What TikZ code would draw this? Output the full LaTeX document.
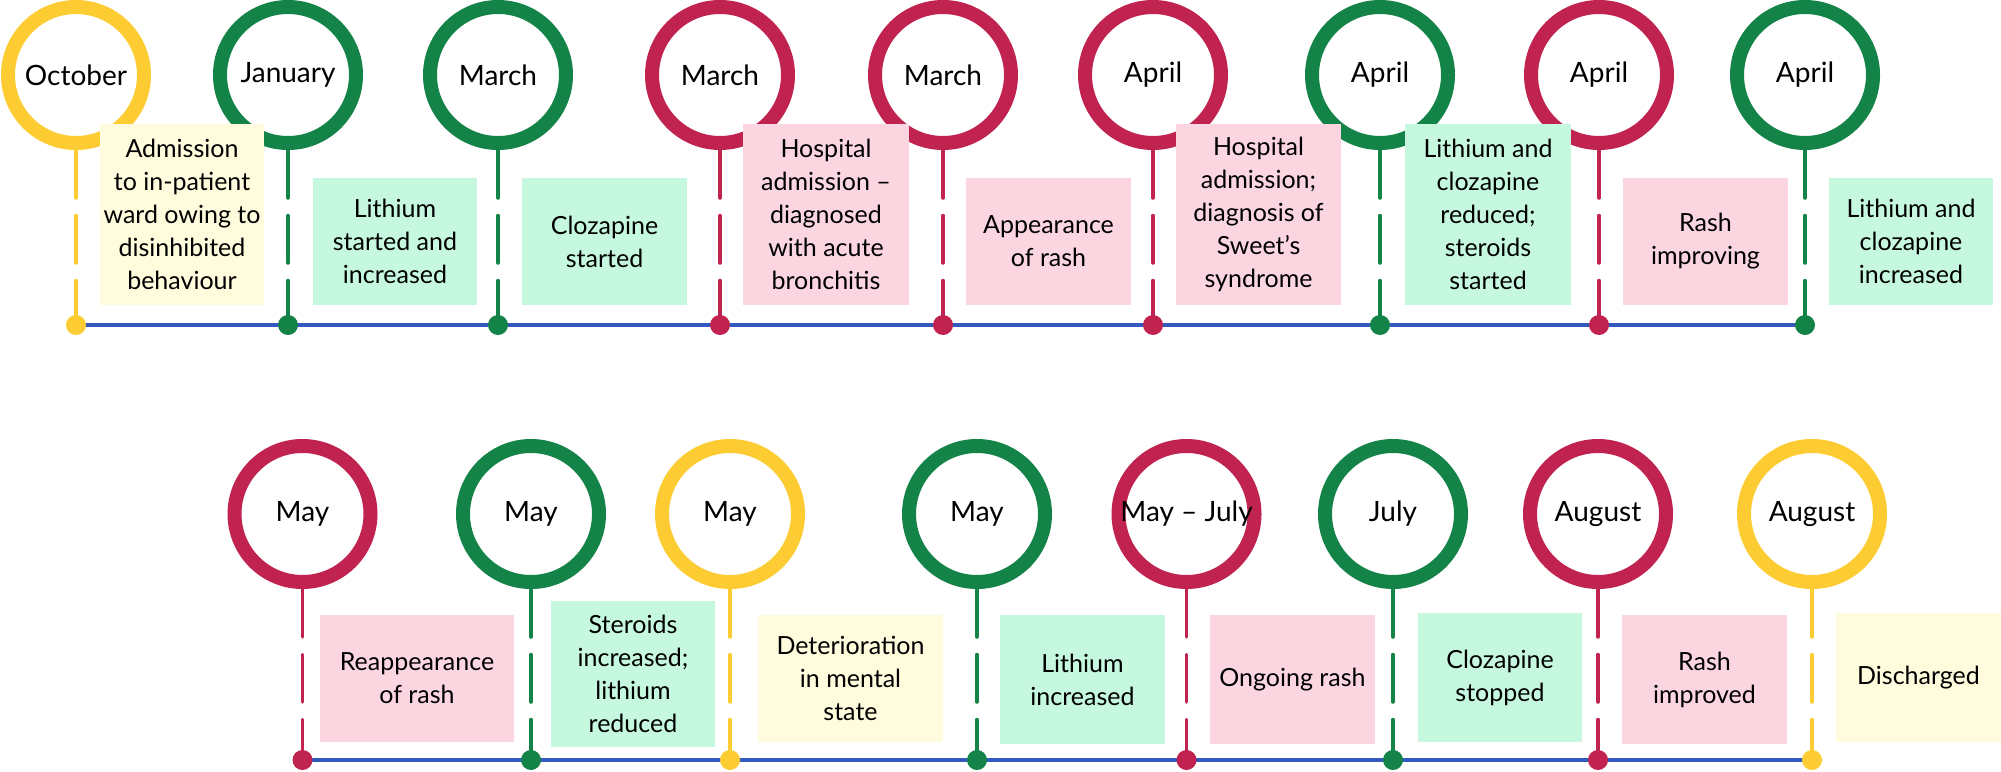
\documentclass[tikz,border=0pt]{standalone}
\usepackage{fontspec}
\IfFontExistsTF{Lato}{\setmainfont{Lato}}{\setmainfont{PT Sans}}
\definecolor{cred}{RGB}{193,35,80}
\definecolor{cgrn}{RGB}{20,131,72}
\definecolor{cyel}{RGB}{252,204,50}
\definecolor{cblue}{RGB}{50,90,190}
\definecolor{bred}{RGB}{251,214,224}
\definecolor{bgrn}{RGB}{197,248,222}
\definecolor{byel}{RGB}{255,252,222}
\pgfdeclarelayer{bg}
\pgfsetlayers{bg,main}
\tikzset{
  ring/.style={circle, draw=#1, line width=14pt, minimum size=136pt, inner sep=0pt, fill=white, font=\fontsize{28}{34}\selectfont},
  dotn/.style={circle, fill=#1, minimum size=20pt, inner sep=0pt},
  stem/.style={draw=#1, line width=3.5pt, line cap=round, dash pattern=on 48pt off 17.5pt on 47.5pt off 17.5pt on 300pt},
  tline/.style={draw=cblue, line width=4pt},
  evb/.style={fill=#1, inner sep=0pt, align=center, font=\fontsize{25}{33}\selectfont, text=black},
}
\newcommand\evbox[7]{\node[evb=#2, minimum width={#5pt-#3pt}, minimum height={#6pt-#4pt}] (#1) at ({(#3+#5)/2},{(#4+#6)/2}) {#7};}
\newcommand\evt[5]{% name, color, x, ycircle, text
  \node[ring=#2] (m#1) at (#3,#4) {#5};
  \node[dotn=#2] (d#1) at (#3,\dotY) {};
  \begin{pgfonlayer}{bg}\draw[stem=#2] (m#1.south) -- (d#1.center);\end{pgfonlayer}
}
\begin{document}
\begin{tikzpicture}[x=1pt,y=-1pt]
\useasboundingbox (0,0) rectangle (2001,771);
% top row
\def\dotY{325}
\evt{a1}{cyel}{76}{75}{October}
\evt{a2}{cgrn}{288}{75}{January}
\evt{a3}{cgrn}{498}{75}{March}
\evt{a4}{cred}{720}{75}{March}
\evt{a5}{cred}{943}{75}{March}
\evt{a6}{cred}{1153}{75}{April}
\evt{a7}{cgrn}{1380}{75}{April}
\evt{a8}{cred}{1599}{75}{April}
\evt{a9}{cgrn}{1805}{75}{April}
\begin{pgfonlayer}{bg}\draw[tline] (da1.center) -- (da9.center);\end{pgfonlayer}
% bottom row
\def\dotY{760}
\evt{b1}{cred}{302.5}{514}{May}
\evt{b2}{cgrn}{531}{514}{May}
\evt{b3}{cyel}{730}{514}{May}
\evt{b4}{cgrn}{977}{514}{May}
\evt{b5}{cred}{1186.5}{514}{May -- July}
\evt{b6}{cgrn}{1393}{514}{July}
\evt{b7}{cred}{1598}{514}{August}
\evt{b8}{cyel}{1812}{514}{August}
\begin{pgfonlayer}{bg}\draw[tline] (db1.center) -- (db8.center);\end{pgfonlayer}
% top boxes
\evbox{ta1}{byel}{100}{124}{264}{305}{Admission\\to in-patient\\ward owing to\\disinhibited\\behaviour}
\evbox{ta2}{bgrn}{313}{178}{477}{305}{Lithium\\started and\\increased}
\evbox{ta3}{bgrn}{522}{178}{687}{305}{Clozapine\\started}
\evbox{ta4}{bred}{743}{124}{909}{305}{Hospital\\admission --\\diagnosed\\with acute\\bronchitis}
\evbox{ta5}{bred}{966}{178}{1131}{305}{Appearance\\of rash}
\evbox{ta6}{bred}{1176}{124}{1341}{305}{Hospital\\admission;\\diagnosis of\\Sweet's\\syndrome}
\evbox{ta7}{bgrn}{1405}{124}{1571}{305}{Lithium and\\clozapine\\reduced;\\steroids\\started}
\evbox{ta8}{bred}{1623}{178}{1788}{305}{Rash\\improving}
\evbox{ta9}{bgrn}{1829}{178}{1993}{305}{Lithium and\\clozapine\\increased}
% bottom boxes
\evbox{tb1}{bred}{320}{615}{514}{742}{Reappearance\\of rash}
\evbox{tb2}{bgrn}{551}{601}{715}{747}{Steroids\\increased;\\lithium\\reduced}
\evbox{tb3}{byel}{758}{615}{943}{742}{Deterioration\\in mental\\state}
\evbox{tb4}{bgrn}{1000}{615}{1165}{744}{Lithium\\increased}
\evbox{tb5}{bred}{1210}{615}{1375}{744}{Ongoing rash}
\evbox{tb6}{bgrn}{1418}{613}{1582}{742}{Clozapine\\stopped}
\evbox{tb7}{bred}{1622}{615}{1787}{744}{Rash\\improved}
\evbox{tb8}{byel}{1836}{613}{2001}{742}{Discharged}
\end{tikzpicture}
\end{document}
